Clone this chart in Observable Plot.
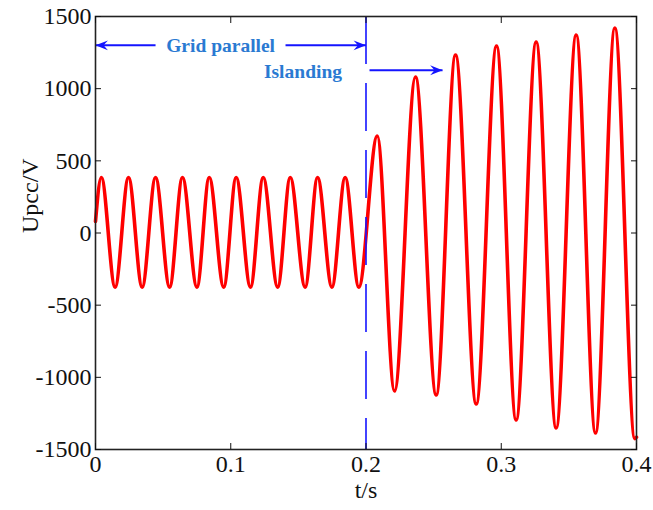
<!DOCTYPE html>
<html><head><meta charset="utf-8">
<script src="https://cdn.jsdelivr.net/npm/d3@7"></script>
<script src="https://cdn.jsdelivr.net/npm/@observablehq/plot@0.6"></script>
<style>body{margin:0;background:#fff;}</style>
</head><body><div id="chart"></div>
<script>
// Time samples (s) at the extrema of Upcc
const tPoints = [0, 0.0043, 0.0145, 0.0244, 0.0345, 0.0444, 0.0548, 0.0643, 0.0750, 0.0841, 0.0948,
  0.1040, 0.1146, 0.1240, 0.1347, 0.1440, 0.1550, 0.1642, 0.1748, 0.1846, 0.1947,
  0.2083, 0.2211, 0.2366, 0.2519, 0.2662, 0.2815, 0.2965, 0.3110, 0.3258, 0.3406,
  0.3554, 0.3697, 0.3840, 0.3988, 0.4];
// Upcc values (V) at those times
const uPoints = [80, 385, -375, 385, -375, 385, -375, 385, -375, 385, -375,
  385, -375, 385, -375, 385, -375, 385, -375, 385, -375,
  672, -1095, 1081, -1122, 1233, -1185, 1296, -1296, 1323, -1351,
  1372, -1386, 1420, -1425, -1415];
const xTicks = [0, 0.1, 0.2, 0.3, 0.4];
const yTicks = [-1500, -1000, -500, 0, 500, 1000, 1500];
const switchTime = [0.2];
const annotationText = ["Grid parallel", "Islanding"];
const annotationX = [0.0925, 0.1534];
const annotationY = [1300, 1114];
const arrowX1 = [0.0444, 0.1405, 0.2026];
const arrowX2 = [0, 0.2, 0.2566];
const arrowY = [1300, 1300, 1128];
const arrowDir = [180, 0, 0];

const data = tPoints.map((t, i) => ({t, u: uPoints[i]}));
const notes = annotationText.map((text, i) => ({text, x: annotationX[i], y: annotationY[i]}));
const arrows = arrowX1.map((x1, i) => ({x1, x2: arrowX2[i], y: arrowY[i], rot: arrowDir[i]}));

const arrowHead = {
  draw(ctx, size) {
    const L = Math.sqrt(size), W = L * 0.8;
    ctx.moveTo(0, 0); ctx.lineTo(-L, -W / 2); ctx.lineTo(-L * 0.65, 0); ctx.lineTo(-L, W / 2); ctx.closePath();
  }
};
const serif = "'Liberation Serif','Times New Roman',serif";
const blue = "#1414ff";

const chart = Plot.plot({
  width: 653, height: 510,
  marginLeft: 95, marginRight: 17, marginTop: 16, marginBottom: 61,
  style: {fontFamily: serif, fontSize: "24px", color: "#111", background: "#fff", overflow: "visible"},
  x: {domain: [0, 0.4]},
  y: {domain: [-1500, 1500]},
  marks: [
    Plot.line(data, {x: "t", y: "u", stroke: "#ff0000", strokeWidth: 3.6, curve: "monotone-x"}),
    Plot.ruleX(switchTime, {x: d => d, stroke: blue, strokeWidth: 1.6, strokeDasharray: "48,19"}),
    Plot.link(arrows, {x1: "x1", x2: "x2", y1: "y", y2: "y", stroke: blue, strokeWidth: 2}),
    Plot.dot(arrows, {x: "x2", y: "y", symbol: arrowHead, r: 7, fill: blue, stroke: "none", rotate: "rot"}),
    Plot.text(notes, {x: "x", y: "y", text: "text", fill: "#2a7ad2", fontWeight: "bold", fontSize: 19.5, fontFamily: serif}),
    Plot.frame({stroke: "#222", strokeWidth: 1.6}),
    Plot.axisX({ticks: xTicks, tickSize: 0, tickPadding: 5, tickFormat: d => String(d), label: null, fontSize: 24}),
    Plot.axisX({ticks: xTicks, tickSize: -6, tickFormat: () => "", label: null}),
    Plot.axisX({anchor: "top", ticks: xTicks, tickSize: -6, tickFormat: () => "", label: null}),
    Plot.axisY({ticks: yTicks, tickSize: 0, tickPadding: 4, tickFormat: d => String(d), label: null, fontSize: 24}),
    Plot.axisY({ticks: yTicks, tickSize: -6, tickFormat: () => "", label: null}),
    Plot.axisY({anchor: "right", ticks: yTicks, tickSize: -6, tickFormat: () => "", label: null}),
    Plot.text(["t/s"], {frameAnchor: "bottom", dy: 48, text: d => d, fontSize: 24, fill: "#111"}),
    Plot.text(["Upcc/V"], {frameAnchor: "left", dx: -65, rotate: -90, text: d => d, fontSize: 24, fill: "#111"})
  ]
});
document.getElementById("chart").appendChild(chart);
</script>
</body></html>
